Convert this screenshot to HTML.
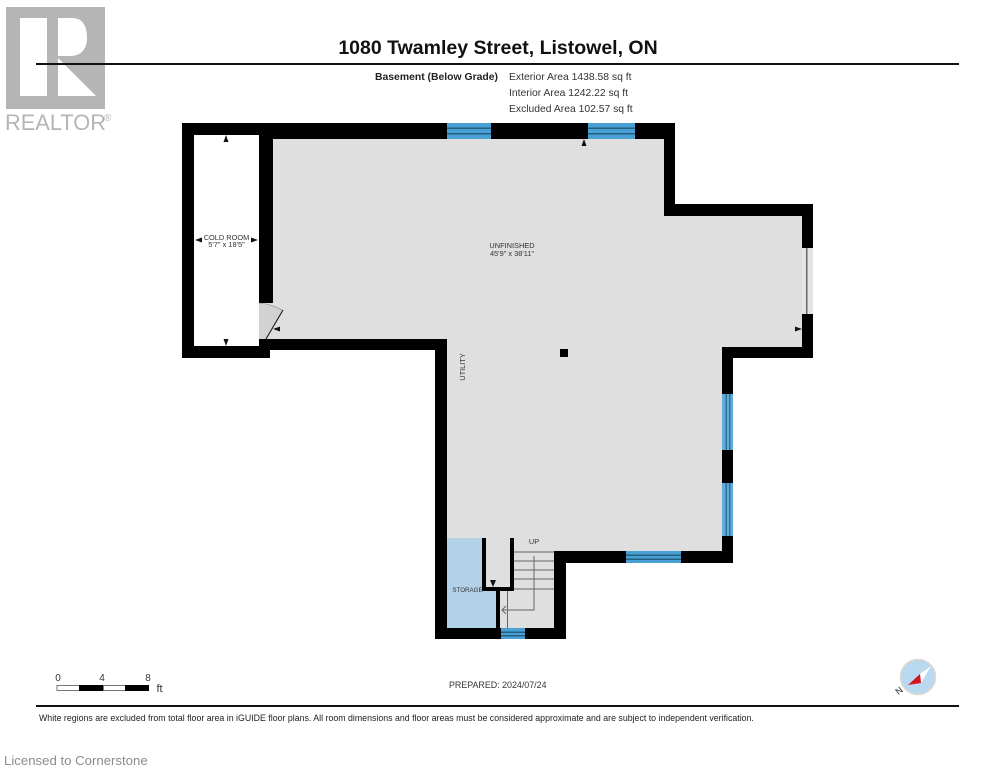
<!DOCTYPE html>
<html>
<head>
<meta charset="utf-8">
<style>
html,body{margin:0;padding:0;background:#fff;}
svg{display:block;font-family:"Liberation Sans",sans-serif;}
</style>
</head>
<body>
<svg width="995" height="768" viewBox="0 0 995 768" xmlns="http://www.w3.org/2000/svg">
<rect width="995" height="768" fill="#fff"/>

<!-- Realtor logo -->
<rect x="6" y="7" width="99" height="102" fill="#b5b5b5"/>
<rect x="20" y="18" width="27" height="78" fill="#fff"/>
<path d="M58 18H72C84 18 87 28 87 38C87 48 82 56 70 56H58Z M58 58L96 96H58Z" fill="#fff"/>
<text x="5" y="130" font-size="21.800" fill="#b5b5b5">REALTOR</text>
<text x="104" y="121" font-size="10" fill="#b5b5b5">®</text>

<!-- Header -->
<text x="498" y="54" font-size="19.500" font-weight="bold" text-anchor="middle" fill="#111">1080 Twamley Street, Listowel, ON</text>
<rect x="36" y="63" width="923" height="2" fill="#111"/>
<text x="498" y="80" font-size="10.400" font-weight="bold" text-anchor="end" fill="#222">Basement (Below Grade)</text>
<text x="509" y="80" font-size="10.350" fill="#333">Exterior Area 1438.58 sq ft</text>
<text x="509" y="96" font-size="10.350" fill="#333">Interior Area 1242.22 sq ft</text>
<text x="509" y="112" font-size="10.350" fill="#333">Excluded Area 102.57 sq ft</text>

<!-- Floor fill -->
<path d="M259 135H664V216H802V347H722V551H554V628H447V339H259Z" fill="#dfdfdf"/>
<rect x="802" y="248" width="11" height="66" fill="#e4e4e4"/>
<rect x="447" y="538" width="50" height="90" fill="#b3d2e8"/>
<rect x="486" y="538" width="24" height="50" fill="#dfdfdf"/>
<rect x="259" y="135" width="14" height="168" fill="#000"/>

<!-- Walls -->
<g fill="#000">
<rect x="182" y="123" width="493" height="12"/>
<rect x="259" y="123" width="416" height="16"/>
<rect x="182" y="123" width="12" height="235"/>
<rect x="182" y="346" width="88" height="12"/>
<rect x="259" y="339" width="188" height="11"/>
<rect x="664" y="123" width="11" height="93"/>
<rect x="664" y="204" width="149" height="12"/>
<rect x="802" y="204" width="11" height="44"/>
<rect x="802" y="314" width="11" height="44"/>
<rect x="722" y="347" width="91" height="11"/>
<rect x="722" y="347" width="11" height="216"/>
<rect x="554" y="551" width="179" height="12"/>
<rect x="554" y="551" width="12" height="88"/>
<rect x="435" y="628" width="131" height="11"/>
<rect x="435" y="339" width="12" height="300"/>
<rect x="482" y="538" width="4" height="53"/>
<rect x="510" y="538" width="4" height="53"/>
<rect x="482" y="587" width="32" height="4"/>
<rect x="496" y="591" width="4" height="37"/>
<rect x="560" y="349" width="8" height="8"/>
</g>

<!-- Windows -->
<g>
<rect x="447" y="123" width="44" height="16" fill="#4a9fd4"/>
<rect x="447" y="127.500" width="44" height="1.500" fill="#22607f"/>
<rect x="447" y="133" width="44" height="1.500" fill="#22607f"/>
<rect x="588" y="123" width="47" height="16" fill="#4a9fd4"/>
<rect x="588" y="127.500" width="47" height="1.500" fill="#22607f"/>
<rect x="588" y="133" width="47" height="1.500" fill="#22607f"/>
<rect x="722" y="394" width="11" height="56" fill="#62acdc"/>
<rect x="725.500" y="394" width="1.500" height="56" fill="#2f7299"/>
<rect x="729" y="394" width="1.500" height="56" fill="#2f7299"/>
<rect x="722" y="483" width="11" height="53" fill="#62acdc"/>
<rect x="725.500" y="483" width="1.500" height="53" fill="#2f7299"/>
<rect x="729" y="483" width="1.500" height="53" fill="#2f7299"/>
<rect x="626" y="551" width="55" height="12" fill="#4a9fd4"/>
<rect x="626" y="554.500" width="55" height="1.500" fill="#22607f"/>
<rect x="626" y="558.500" width="55" height="1.500" fill="#22607f"/>
<rect x="501" y="628" width="24" height="11" fill="#4a9fd4"/>
<rect x="501" y="631.500" width="24" height="1.500" fill="#22607f"/>
<rect x="501" y="635" width="24" height="1.500" fill="#22607f"/>
</g>

<!-- Door right -->
<rect x="806" y="248" width="1.500" height="66" fill="#666"/>

<!-- Door cold room -->
<path d="M259 303Q271 304 282 310L266 339H259Z" fill="#d2d2d2"/>
<path d="M283 310L266 339" stroke="#222" stroke-width="1.200" fill="none"/>
<path d="M259 303Q271 304 282 310" stroke="#777" stroke-width=".6" fill="none"/>

<!-- Stairs -->
<g stroke="#666" stroke-width="1" fill="none">
<path d="M514 552H554M514 561H554M514 570H554M514 579H554M514 589H554"/>
<path d="M534 556V610H502M506 606L502 610L506 614"/>
<path d="M507.500 591V628"/>
</g>

<!-- Arrowheads -->
<g fill="#111">
<path d="M226 135L223.500 142H228.500Z"/>
<path d="M226 346L223.500 339H228.500Z"/>
<path d="M195 240L202 237.500V242.500Z"/>
<path d="M258 240L251 237.500V242.500Z"/>
<path d="M584 139L581.500 146H586.500Z"/>
<path d="M273 329L280 326.500V331.500Z"/>
<path d="M802 329L795 326.500V331.500Z"/>
<path d="M493 587L490 580H496Z"/>
</g>

<!-- Room labels -->
<g text-anchor="middle" fill="#333">
<text x="226.500" y="240" font-size="7.400">COLD ROOM</text>
<text x="226.500" y="247" font-size="7.400">5'7" x 18'5"</text>
<text x="512" y="248" font-size="7.400">UNFINISHED</text>
<text x="512" y="256" font-size="7.400">45'9" x 38'11"</text>
<text x="534" y="544" font-size="7.400">UP</text>
<text x="467.500" y="592" font-size="6.200">STORAGE</text>
<text transform="translate(465,367) rotate(-90)" font-size="7.400">UTILITY</text>
</g>

<!-- Scale -->
<text x="58" y="681" font-size="10" text-anchor="middle" fill="#333">0</text>
<text x="102" y="681" font-size="10" text-anchor="middle" fill="#333">4</text>
<text x="148" y="681" font-size="10" text-anchor="middle" fill="#333">8</text>
<rect x="57" y="685.500" width="22.500" height="5" fill="#fff" stroke="#777" stroke-width="1"/>
<rect x="79" y="685" width="24" height="6" fill="#000"/>
<rect x="103.500" y="685.500" width="22" height="5" fill="#fff" stroke="#777" stroke-width="1"/>
<rect x="125" y="685" width="24" height="6" fill="#000"/>
<text x="156.500" y="692" font-size="11" fill="#333">ft</text>

<text x="449" y="688" font-size="8.900" fill="#333">PREPARED: 2024/07/24</text>

<!-- Compass -->
<circle cx="918" cy="677" r="17.500" fill="#b8d9f0" stroke="#ddd8d0" stroke-width="1.500"/>
<path d="M920 674L931 666L921 683Z" fill="#fff"/>
<path d="M908 685L920 674L921 683Z" fill="#d8141f"/>
<text transform="translate(901,693) rotate(-40)" font-size="9" text-anchor="middle" fill="#222">N</text>

<!-- Footer -->
<rect x="36" y="705" width="923" height="2" fill="#111"/>
<text x="39" y="721" font-size="8.800" fill="#222">White regions are excluded from total floor area in iGUIDE floor plans. All room dimensions and floor areas must be considered approximate and are subject to independent verification.</text>
<text x="4" y="765" font-size="13.200" fill="#8c8c8c">Licensed to Cornerstone</text>
</svg>
</body>
</html>
